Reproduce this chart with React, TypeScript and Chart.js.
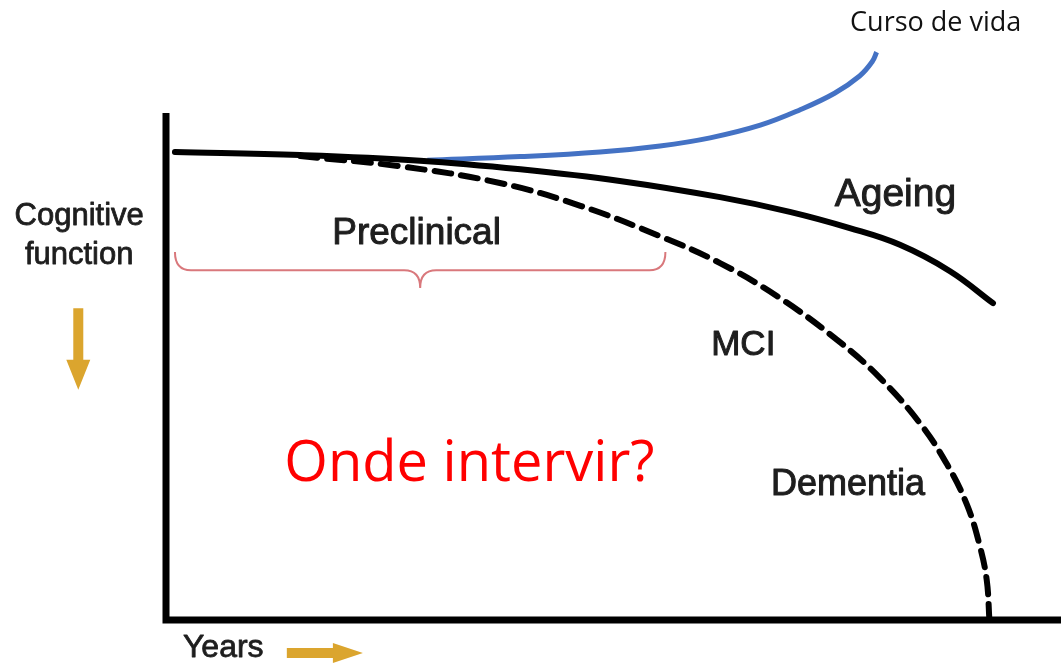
import React, { useEffect, useRef } from "react";
import { Chart, registerables } from "chart.js";

Chart.register(...registerables);

// Ageing curve (years, cognitive function)
const ageingX = [1.0, 15.0, 28.4, 39.6, 50.7, 61.9, 69.7, 76.4, 82.0, 87.6, 92.4];
const ageingY = [92.3, 91.7, 90.6, 88.9, 86.6, 83.4, 80.5, 77.3, 74.0, 68.8, 62.5];

// MCI / Dementia trajectory
const dementiaX = [15.0, 26.1, 37.3, 46.3, 55.2, 61.9, 68.6, 75.3, 79.8, 84.2, 87.3, 89.5, 90.9, 91.7, 92.0];
const dementiaY = [91.5, 89.5, 86.2, 81.7, 75.7, 70.4, 63.5, 54.8, 47.7, 38.9, 30.6, 22.7, 14.8, 7.9, 0];

// Life-course ("Curso de vida") trajectory
const lifeX = [29.2, 39.6, 48.5, 55.2, 60.8, 66.4, 70.8, 74.7, 77.5, 78.9, 79.4];
const lifeY = [90.7, 91.4, 92.3, 93.5, 95.1, 97.6, 100.6, 103.9, 107.3, 110.1, 112.0];

// Preclinical brace span
const braceSpan = [1.0, 55.8];
const braceLevels = [72.6, 69.0, 65.5];

const labelTexts = ["Curso de vida", "Ageing", "Preclinical", "MCI", "Dementia", "Cognitive", "function", "Years", "Onde intervir?"];

const toPts = (xs: number[], ys: number[]) => xs.map((x, i) => ({ x, y: ys[i] }));

export default function App() {
  const ref = useRef<HTMLCanvasElement | null>(null);

  useEffect(() => {
    if (!ref.current) return;
    const sans = "'Liberation Sans', Arial, sans-serif";
    const cal = "'Open Sans', 'Noto Sans', sans-serif";
    const labels = [
      { t: labelTexts[0], x: 86.0, y: 117.6, font: `27px ${cal}`, color: "#111", stroke: 0 },
      { t: labelTexts[1], x: 81.5, y: 83.8, font: `39px ${sans}`, color: "#1e1e1e", stroke: 1 },
      { t: labelTexts[2], x: 28.0, y: 76.1, font: `37px ${sans}`, color: "#1e1e1e", stroke: 1 },
      { t: labelTexts[3], x: 64.5, y: 54.2, font: `35px ${sans}`, color: "#1e1e1e", stroke: 1 },
      { t: labelTexts[4], x: 76.2, y: 26.6, font: `36px ${sans}`, color: "#1e1e1e", stroke: 1 },
      { t: labelTexts[5], x: -9.7, y: 79.5, font: `31px ${sans}`, color: "#1e1e1e", stroke: 0.8 },
      { t: labelTexts[6], x: -9.7, y: 72.0, font: `31px ${sans}`, color: "#1e1e1e", stroke: 0.8 },
      { t: labelTexts[7], x: 6.4, y: -5.5, font: `32px ${sans}`, color: "#1e1e1e", stroke: 0.8 },
      { t: labelTexts[8], x: 33.9, y: 30.6, font: `56px ${cal}`, color: "#ff0000", stroke: 0 },
    ];

    const decor = {
      id: "decor",
      beforeDatasetsDraw(chart: any) {
        const { ctx, scales } = chart;
        const xs = scales.x, ys = scales.y;
        const px = (v: number) => xs.getPixelForValue(v);
        const py = (v: number) => ys.getPixelForValue(v);
        ctx.save();
        ctx.strokeStyle = "#000";
        ctx.lineWidth = 7;
        ctx.lineCap = "butt";
        ctx.beginPath();
        ctx.moveTo(px(0), py(100));
        ctx.lineTo(px(0), py(0) + 3.5);
        ctx.moveTo(px(0) - 3.5, py(0));
        ctx.lineTo(px(100), py(0));
        ctx.stroke();
        ctx.restore();
      },
      afterDatasetsDraw(chart: any) {
        const { ctx, scales } = chart;
        const xs = scales.x, ys = scales.y;
        const px = (v: number) => xs.getPixelForValue(v);
        const py = (v: number) => ys.getPixelForValue(v);
        ctx.save();
        // brace
        const x0 = px(braceSpan[0]), x1 = px(braceSpan[1]);
        const xc = (x0 + x1) / 2;
        const yT = py(braceLevels[0]), yM = py(braceLevels[1]), yP = py(braceLevels[2]);
        const r = 16;
        ctx.strokeStyle = "#d9787c";
        ctx.lineWidth = 2;
        ctx.beginPath();
        ctx.moveTo(x0, yT);
        ctx.quadraticCurveTo(x0, yM, x0 + r, yM);
        ctx.lineTo(xc - r, yM);
        ctx.quadraticCurveTo(xc, yM, xc, yP);
        ctx.quadraticCurveTo(xc, yM, xc + r, yM);
        ctx.lineTo(x1 - r, yM);
        ctx.quadraticCurveTo(x1, yM, x1, yT);
        ctx.stroke();

        // arrows
        ctx.fillStyle = "#dba52e";
        const ax = px(-9.8), aTop = py(61.5), aTip = py(45.4);
        ctx.beginPath();
        ctx.moveTo(ax - 5, aTop);
        ctx.lineTo(ax + 5, aTop);
        ctx.lineTo(ax + 5, aTip - 30);
        ctx.lineTo(ax + 12, aTip - 30);
        ctx.lineTo(ax, aTip);
        ctx.lineTo(ax - 12, aTip - 30);
        ctx.lineTo(ax - 5, aTip - 30);
        ctx.closePath();
        ctx.fill();
        const ay = py(-6.5), aL = px(13.5), aR = px(22.0);
        ctx.beginPath();
        ctx.moveTo(aL, ay - 5);
        ctx.lineTo(aR - 30, ay - 5);
        ctx.lineTo(aR - 30, ay - 10);
        ctx.lineTo(aR, ay);
        ctx.lineTo(aR - 30, ay + 10);
        ctx.lineTo(aR - 30, ay + 5);
        ctx.lineTo(aL, ay + 5);
        ctx.closePath();
        ctx.fill();

        // labels
        ctx.textAlign = "center";
        ctx.textBaseline = "middle";
        ctx.lineJoin = "round";
        for (const l of labels) {
          ctx.font = l.font;
          ctx.fillStyle = l.color;
          ctx.fillText(l.t, px(l.x), py(l.y));
          if (l.stroke) {
            ctx.strokeStyle = l.color;
            ctx.lineWidth = l.stroke;
            ctx.strokeText(l.t, px(l.x), py(l.y));
          }
        }
        ctx.restore();
      },
    };

    const common = { pointRadius: 0, tension: 0.4, clip: false as any };
    const chart = new Chart(ref.current, {
      type: "line",
      data: {
        datasets: [
          {
            label: "Ageing",
            data: toPts(ageingX, ageingY),
            borderColor: "#000",
            borderWidth: 6,
            borderCapStyle: "round",
            ...common,
          },
          {
            label: "Dementia",
            data: toPts(dementiaX, dementiaY),
            borderColor: "#000",
            borderWidth: 6,
            borderDash: [17, 10],
            borderCapStyle: "round",
            ...common,
          },
          {
            label: "Curso de vida",
            data: toPts(lifeX, lifeY),
            borderColor: "#4472c4",
            borderWidth: 5,
            ...common,
          },
        ],
      },
      options: {
        animation: false,
        responsive: false,
        events: [],
        layout: { padding: { left: 166, right: 0, top: 113, bottom: 45 } },
        plugins: { legend: { display: false }, tooltip: { enabled: false } },
        scales: {
          x: { type: "linear", min: 0, max: 100, display: false },
          y: { type: "linear", min: 0, max: 100, display: false },
        },
      },
      plugins: [decor],
    } as any);
    return () => chart.destroy();
  }, []);

  return (
    <div style={{ position: "fixed", left: 0, top: 0, width: 1061, height: 665, background: "#fff" }}>
      <canvas ref={ref} width={1061} height={665} style={{ display: "block" }} />
    </div>
  );
}
